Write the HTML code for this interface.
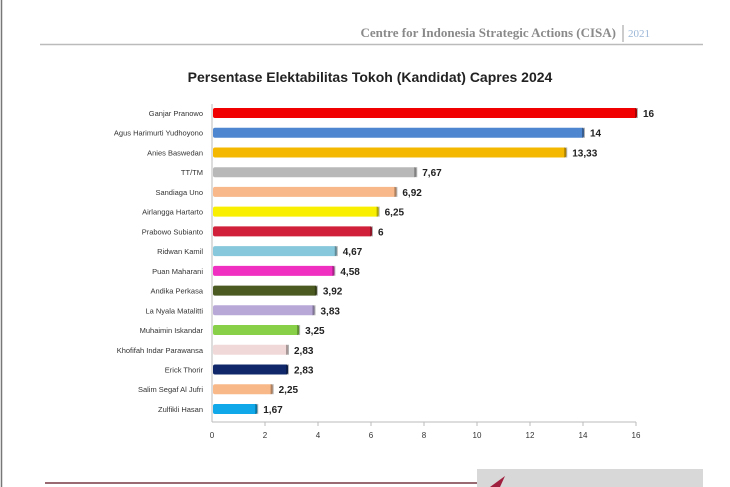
<!DOCTYPE html>
<html><head><meta charset="utf-8"><style>
body{margin:0;background:#fff;width:730px;height:487px;overflow:hidden;position:relative;font-family:"Liberation Sans",sans-serif}
</style></head><body>
<svg width="730" height="487" viewBox="0 0 730 487" xmlns="http://www.w3.org/2000/svg" style="position:absolute;left:0;top:0">
<line x1="1.5" y1="0" x2="1.5" y2="487" stroke="#777" stroke-width="1.5"/>
<text x="616" y="37" text-anchor="end" font-family="Liberation Serif,serif" font-size="13" font-weight="bold" fill="#8a8a8a">Centre for Indonesia Strategic Actions (CISA)</text>
<line x1="623" y1="25" x2="623" y2="42" stroke="#999"/>
<text x="628" y="37" font-family="Liberation Serif,serif" font-size="11" fill="#9ab6d6">2021</text>
<line x1="40" y1="44.5" x2="703" y2="44.5" stroke="#bbb" stroke-width="1.5"/>
<text x="370" y="82" text-anchor="middle" font-size="14" font-weight="bold" fill="#222">Persentase Elektabilitas Tokoh (Kandidat) Capres 2024</text>
<line x1="212" y1="104" x2="212" y2="422" stroke="#bbb"/>
<line x1="212" y1="422" x2="636" y2="422" stroke="#bbb"/>
<g font-size="8" fill="#333" text-anchor="middle">
<text x="212" y="438">0</text><text x="265" y="438">2</text><text x="318" y="438">4</text><text x="371" y="438">6</text><text x="424" y="438">8</text><text x="477" y="438">10</text><text x="530" y="438">12</text><text x="583" y="438">14</text><text x="636" y="438">16</text>
</g>
<g stroke="#bbb"><line x1="265" y1="422" x2="265" y2="426"/><line x1="318" y1="422" x2="318" y2="426"/><line x1="371" y1="422" x2="371" y2="426"/><line x1="424" y1="422" x2="424" y2="426"/><line x1="477" y1="422" x2="477" y2="426"/><line x1="530" y1="422" x2="530" y2="426"/><line x1="583" y1="422" x2="583" y2="426"/><line x1="636" y1="422" x2="636" y2="426"/></g>
<g id="bars" font-size="8" fill="#333"></g>
<line x1="45" y1="483" x2="700" y2="483" stroke="#9a6a72" stroke-width="2"/>
<rect x="477" y="469" width="226" height="18" fill="#d8d8d8"/>
<path d="M490 487 L505 476 L500 487Z" fill="#a02040"/>
</svg>
<script>
var d=[["Ganjar Pranowo",16,"#f00000"],["Agus Harimurti Yudhoyono",14,"#4f86d0"],["Anies Baswedan",13.33,"#f5b800"],["TT/TM",7.67,"#b8b8b8"],["Sandiaga Uno",6.92,"#f8b88a"],["Airlangga Hartarto",6.25,"#f8f000"],["Prabowo Subianto",6,"#d0203a"],["Ridwan Kamil",4.67,"#88c8dc"],["Puan Maharani",4.58,"#f030c0"],["Andika Perkasa",3.92,"#4a5a20"],["La Nyala Matalitti",3.83,"#b8a8d8"],["Muhaimin Iskandar",3.25,"#88d048"],["Khofifah Indar Parawansa",2.83,"#f0d8d8"],["Erick Thorir",2.83,"#10286a"],["Salim Segaf Al Jufri",2.25,"#f8b888"],["Zulfikli Hasan",1.67,"#10a8e8"]];
var g=document.getElementById("bars"),s="",ns="http://www.w3.org/2000/svg";
d.forEach(function(r,i){var y=113+i*19.73,w=r[1]*26.5;
s+='<text x="203" y="'+(y+3)+'" text-anchor="end" font-size="7.5" fill="#333">'+r[0]+'</text>';
s+='<rect x="213" y="'+(y-5)+'" width="'+w+'" height="10" rx="2" fill="'+r[2]+'"/>';
s+='<rect x="'+(211+w)+'" y="'+(y-5)+'" width="3" height="10" fill="#000" opacity="0.3"/>';
s+='<text x="'+(219+w)+'" y="'+(y+4)+'" font-size="10" font-weight="bold" fill="#222">'+String(r[1]).replace(".",",")+'</text>';});
g.innerHTML=s;
</script>
</body></html>
